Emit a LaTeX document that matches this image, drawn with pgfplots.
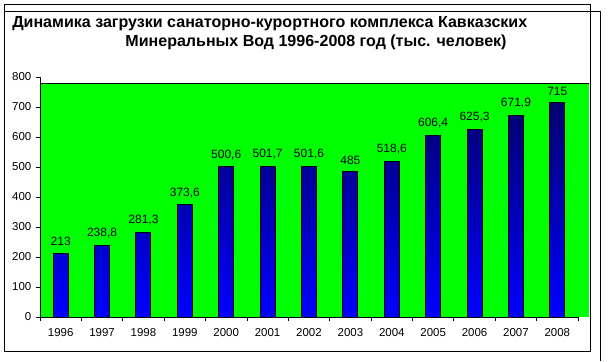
\documentclass[border=0pt]{standalone}
\usepackage{fontspec}
\setmainfont{Liberation Sans}
\usepackage{pgfplots}
\pgfplotsset{compat=1.18}
\definecolor{bargreen}{RGB}{0,255,0}
\definecolor{bartop}{RGB}{0,0,110}
\definecolor{barbot}{RGB}{0,0,255}
\newlength\tw
\begin{document}
\settowidth\tw{\bfseries\fontsize{10}{12}\selectfont Динамика загрузки санаторно-курортного комплекса Кавказских}%
\pgfmathsetmacro\fs{10*386.25/\tw}%
\begin{tikzpicture}
\begin{scope}[x=0.75pt,y=-0.75pt]
\fill[white] (0,0) rectangle (610,361);
% frames
\draw[line width=0.75pt] (4,5) rectangle (590,351);
\draw[line width=0.75pt] (4,12) -- (600,12) -- (600,361);
\node[anchor=west,inner sep=0,font=\bfseries\fontsize{\fs}{\fs}\selectfont] at (12,24) {Динамика загрузки санаторно-курортного комплекса Кавказских};
\node[anchor=center,inner sep=0,font=\bfseries\fontsize{\fs}{\fs}\selectfont] at (316,42.5) {Минеральных Вод 1996-2008 год (тыс. человек)};
\end{scope}
\begin{axis}[
  at={(30pt,-237.75pt)}, anchor=south west,
  scale only axis, width=403.5pt, height=180pt,
  xmin=-0.5, xmax=12.5, ymin=0, ymax=800,
  axis x line=bottom, axis y line=left,
  axis line style={-, line width=0.75pt},
  axis on top,
  clip=false,
  xtick={0,...,12},
  xticklabels={1996,1997,1998,1999,2000,2001,2002,2003,2004,2005,2006,2007,2008},
  minor xtick={-0.5,0.5,...,12.5},
  major x tick style={draw=none},
  minor tick length=3pt,
  tick align=outside,
  ytick={0,100,...,800},
  major tick length=3pt,
  tick style={black, line width=0.6pt},
  tick label style={font=\fontsize{8.6}{10}\selectfont},
  /pgf/number format/assume math mode=true,
  xticklabel style={yshift=-2pt},
]
\fill[bargreen] (axis cs:-0.5,0) rectangle (axis cs:12.77,780);
\draw[line width=0.75pt] (axis cs:-0.5,780) -- (axis cs:12.77,780);
\addplot[ybar, bar width=11.25pt, draw=black, line width=0.75pt,
  top color=bartop, bottom color=barbot,
  nodes near coords, point meta=explicit symbolic,
  every node near coord/.append style={font=\fontsize{9}{10}\selectfont, text=black, anchor=south, inner sep=0pt, yshift=5pt}]
table[meta=lab] {
x y lab
0 213 213
1 238.8 238,8
2 281.3 281,3
3 373.6 373,6
4 500.6 500,6
5 501.7 501,7
6 501.6 501,6
7 485 485
8 518.6 518,6
9 606.4 606,4
10 625.3 625,3
11 671.9 671,9
12 715 715
};
\end{axis}
\end{tikzpicture}
\end{document}
